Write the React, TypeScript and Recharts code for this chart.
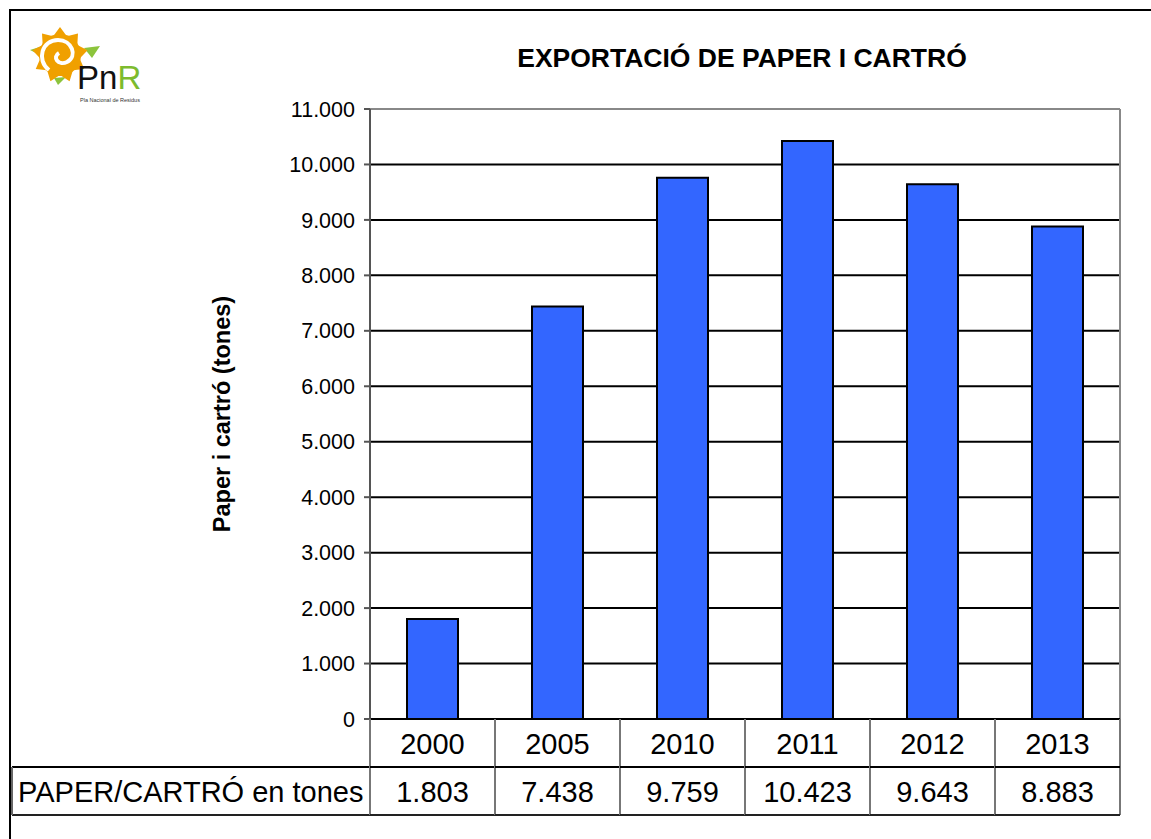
import React from 'react';
import { BarChart, Bar, XAxis, YAxis, CartesianGrid } from 'recharts';

const years = ['2000', '2005', '2010', '2011', '2012', '2013'];
const tonnes = [1803, 7438, 9759, 10423, 9643, 8883];
const yTicks = [0, 1000, 2000, 3000, 4000, 5000, 6000, 7000, 8000, 9000, 10000, 11000];
const rowLabel = 'PAPER/CARTRÓ en tones';

const data = years.map((year, i) => ({ year, tonnes: tonnes[i] }));

const W = 1151;
const H = 839;
const PLOT_L = 370;
const PLOT_R = 1120;
const PLOT_T = 109;
const PLOT_B = 719;
const ROW_H = 48;
const FONT = '"Liberation Sans", Arial, sans-serif';
const TABLE_FS = 29;

const fmt = (n: number) => String(n).replace(/\B(?=(\d{3})+(?!\d))/g, '.');

// data table under the axis, drawn one column per category tick
function TableTick(props: any) {
  const { x, index } = props;
  const cw = (PLOT_R - PLOT_L) / years.length;
  const l = x - cw / 2;
  const r = x + cw / 2;
  const r1 = PLOT_B + ROW_H;
  const r2 = PLOT_B + ROW_H * 2;
  return (
    <g>
      {index === 0 && (
        <g>
          <line x1={12} y1={r1} x2={l} y2={r1} stroke="#000" strokeWidth={2} />
          <line x1={12} y1={r2} x2={l} y2={r2} stroke="#222" strokeWidth={2} />
          <line x1={12} y1={r1} x2={12} y2={r2} stroke="#666" strokeWidth={2} />
          <text x={18} y={r1 + ROW_H / 2 + 1} dominantBaseline="central" fontSize={TABLE_FS} fill="#000" fontFamily={FONT}>
            {rowLabel}
          </text>
        </g>
      )}
      <line x1={l} y1={PLOT_B} x2={l} y2={r2} stroke="#777" strokeWidth={2} />
      {index === years.length - 1 && <line x1={r} y1={PLOT_B} x2={r} y2={r2} stroke="#777" strokeWidth={2} />}
      <line x1={l} y1={r1} x2={r} y2={r1} stroke="#000" strokeWidth={2} />
      <line x1={l} y1={r2} x2={r} y2={r2} stroke="#222" strokeWidth={2} />
      <text x={x} y={PLOT_B + ROW_H / 2 + 1} textAnchor="middle" dominantBaseline="central" fontSize={TABLE_FS} fill="#000" fontFamily={FONT}>
        {years[index]}
      </text>
      <text x={x} y={r1 + ROW_H / 2 + 1} textAnchor="middle" dominantBaseline="central" fontSize={TABLE_FS} fill="#000" fontFamily={FONT}>
        {fmt(tonnes[index])}
      </text>
    </g>
  );
}

function Logo() {
  const cx = 60;
  const cy = 55;
  const pts: string[] = [];
  for (let i = 0; i < 18; i++) {
    const a = (i * Math.PI) / 9 - Math.PI / 2;
    const rad = i % 2 === 0 ? 28 : 20;
    pts.push(`${cx + rad * Math.cos(a)},${cy + rad * Math.sin(a)}`);
  }
  return (
    <svg width={160} height={110} style={{ position: 'absolute', left: 0, top: 0 }}>
      <polygon points="30,50 46,45 44,57" fill="#8CC43C" />
      <polygon points="84,48 100,46 92,58" fill="#8CC43C" />
      <polygon points="54,78 66,77 58,85" fill="#8CC43C" />
      <polygon points={pts.join(' ')} fill="#F0A000" />
      <circle cx={cx} cy={cy} r={21} fill="#F0A000" />
      <path d="M49,70 C36,60 42,40 58,40 C72,40 78,56 67,62 C58,66 52,57 59,53" fill="none" stroke="#fff" strokeWidth={4} />
      <text x={77} y={89} fontSize={33} fontFamily={FONT} fill="#111">
        Pn<tspan fill="#7DBB2E">R</tspan>
      </text>
      <text x={80} y={102} fontSize={5.5} fontFamily={FONT} fill="#333">
        Pla Nacional de Residus
      </text>
    </svg>
  );
}

export default function App() {
  return (
    <div style={{ position: 'absolute', left: 0, top: 0, width: W, height: H, overflow: 'hidden', background: '#fff', fontFamily: FONT }}>
      <div style={{ position: 'absolute', left: 9, top: 9, width: W + 20, height: H + 20, border: '2px solid #000' }} />
      <Logo />
      <div
        style={{
          position: 'absolute',
          left: 0,
          width: 1484,
          top: 43,
          textAlign: 'center',
          fontWeight: 'bold',
          fontSize: 26.5,
          lineHeight: '30px',
          color: '#000',
        }}
      >
        EXPORTACIÓ DE PAPER I CARTRÓ
      </div>
      <div style={{ position: 'absolute', left: 0, top: 0 }}>
        <BarChart
          width={W}
          height={H}
          data={data}
          margin={{ top: PLOT_T, right: W - PLOT_R, bottom: 0, left: 0 }}
        >
          <CartesianGrid vertical={false} stroke="#000" strokeWidth={2} />
          <CartesianGrid horizontalPoints={[PLOT_T]} verticalPoints={[PLOT_R]} stroke="#888" strokeWidth={2} />
          <XAxis
            dataKey="year"
            height={H - PLOT_B}
            interval={0}
            axisLine={{ stroke: '#000', strokeWidth: 2 }}
            tickLine={false}
            tick={(p: any) => <TableTick {...p} />}
          />
          <YAxis
            width={PLOT_L}
            domain={[0, 11000]}
            ticks={yTicks}
            interval={0}
            tickFormatter={fmt}
            tickSize={6}
            tickMargin={9}
            tick={{ fill: '#000', fontSize: 21.5, fontFamily: FONT }}
            tickLine={{ stroke: '#555', strokeWidth: 2 }}
            axisLine={{ stroke: '#555', strokeWidth: 2 }}
            label={{
              content: () => (
                <text
                  transform={`translate(222,${(PLOT_T + PLOT_B) / 2}) rotate(-90)`}
                  textAnchor="middle"
                  dominantBaseline="central"
                  fontSize={23.5}
                  fontWeight="bold"
                  fill="#000"
                  fontFamily={FONT}
                >
                  Paper i cartró (tones)
                </text>
              ),
            }}
          />
          <Bar dataKey="tonnes" barSize={51} fill="#3366FF" stroke="#000" strokeWidth={2} isAnimationActive={false} />
        </BarChart>
      </div>
    </div>
  );
}
